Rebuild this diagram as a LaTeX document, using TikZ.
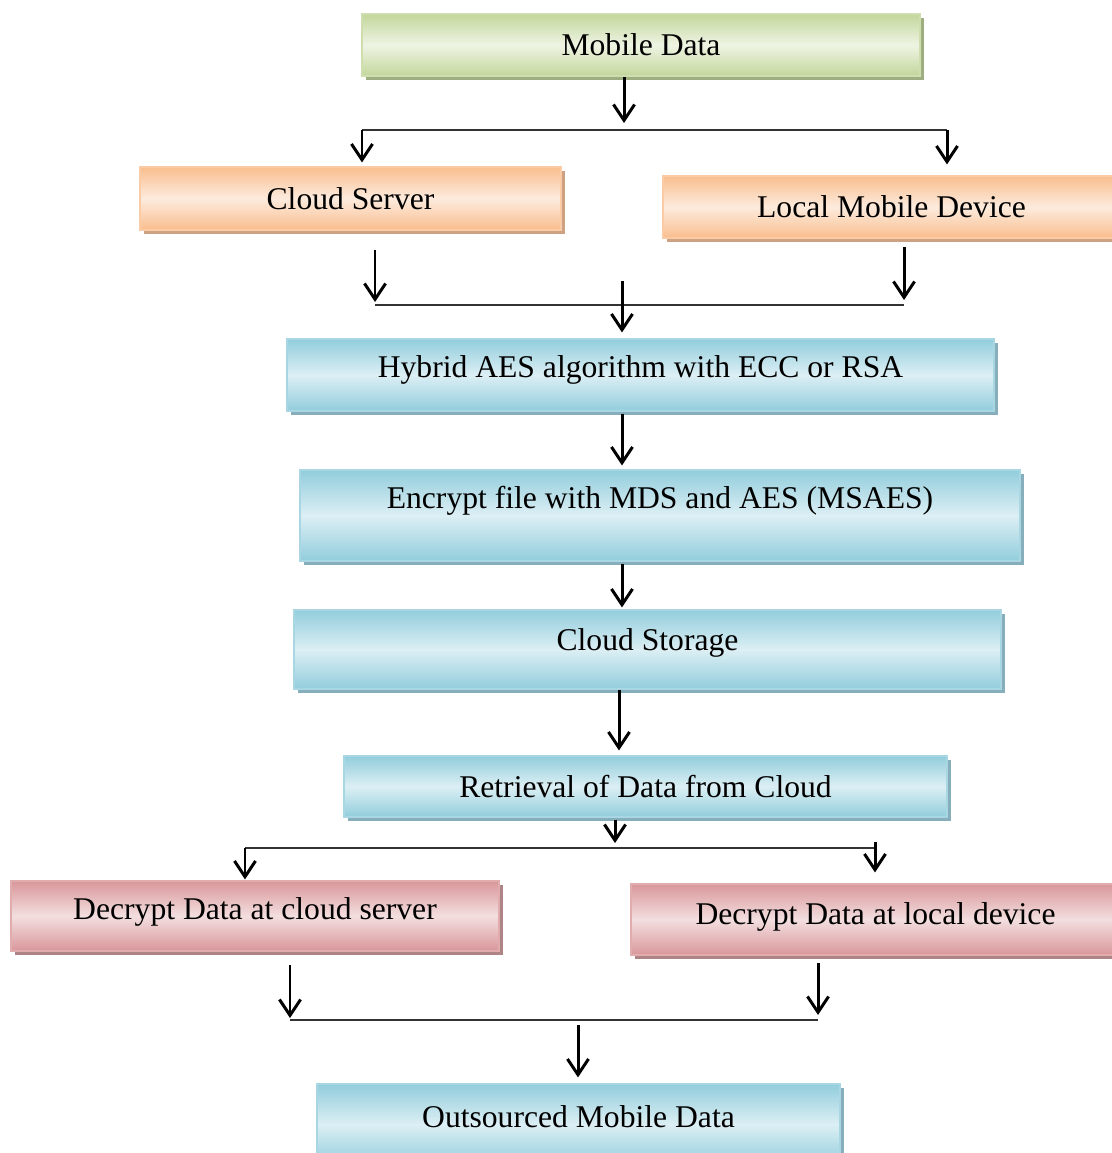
\documentclass[tikz,border=0pt]{standalone}
\usepackage{fontspec}
\setmainfont{Liberation Serif}
\usetikzlibrary{arrows.meta,shadows}
\newlength\pxu
\setlength\pxu{0.02cm}
\definecolor{bDark}{HTML}{92CDDC}
\definecolor{bLight}{HTML}{DCEFF4}
\definecolor{bShad}{HTML}{86AEBB}
\definecolor{gDark}{HTML}{C3D69B}
\definecolor{gLight}{HTML}{EEF4E3}
\definecolor{gShad}{HTML}{9EAE80}
\definecolor{oDark}{HTML}{F9BE8E}
\definecolor{oLight}{HTML}{FDEBDD}
\definecolor{oShad}{HTML}{CDA282}
\definecolor{rDark}{HTML}{D9979A}
\definecolor{rLight}{HTML}{F3DEDF}
\definecolor{rShad}{HTML}{AE8486}
\tikzset{
  boxbase/.style={rectangle, inner sep=0pt, font=\fontsize{18}{20}\selectfont, shading angle=25},
  bluebox/.style={boxbase, draw=bDark!80!white, line width=0.6pt, top color=bDark, bottom color=bDark, middle color=bLight,
     general shadow={fill=bShad, shadow xshift=4\pxu, shadow yshift=-4\pxu}},
  greenbox/.style={boxbase, draw=gDark!80!white, line width=0.6pt, top color=gDark, bottom color=gDark, middle color=gLight,
     general shadow={fill=gShad, shadow xshift=4\pxu, shadow yshift=-4\pxu}},
  orangebox/.style={boxbase, draw=oDark!80!white, line width=0.6pt, top color=oDark, bottom color=oDark, middle color=oLight,
     general shadow={fill=oShad, shadow xshift=4\pxu, shadow yshift=-4\pxu}},
  redbox/.style={boxbase, draw=rDark!80!white, line width=0.6pt, top color=rDark, bottom color=rDark, middle color=rLight,
     general shadow={fill=rShad, shadow xshift=4\pxu, shadow yshift=-4\pxu}},
  arr/.style={-{Straight Barb[length=9pt,width=12pt,line width=1.7pt]}, line width=1.7pt, black},
  hline/.style={line width=0.9pt, black!80},
}
\begin{document}
\begin{tikzpicture}[x=0.02cm,y=-0.02cm]
\useasboundingbox[fill=white] (0,0) rectangle (1112,1153);
% boxes
\node[greenbox, minimum width=558\pxu, minimum height=62\pxu] (md) at (641,45) {Mobile Data};
\node[orangebox, minimum width=421\pxu, minimum height=63\pxu] (cs) at (350.5,198.5) {Cloud Server};
\node[orangebox, minimum width=457\pxu, minimum height=62\pxu] (lm) at (891.5,207) {Local Mobile Device};
\node[bluebox, minimum width=707\pxu, minimum height=72\pxu] (hy) at (640.5,375) {\raisebox{5\pxu}[\height][\depth]{Hybrid AES algorithm with ECC or RSA}};
\node[bluebox, minimum width=720\pxu, minimum height=91\pxu] (en) at (660,515.5) {\raisebox{15\pxu}[\height][\depth]{Encrypt file with MDS and AES (MSAES)}};
\node[bluebox, minimum width=707\pxu, minimum height=79\pxu] (st) at (647.5,649.5) {\raisebox{7\pxu}[\height][\depth]{Cloud Storage}};
\node[bluebox, minimum width=603\pxu, minimum height=61\pxu] (re) at (645.5,786.5) {Retrieval of Data from Cloud};
\node[redbox, minimum width=488\pxu, minimum height=70\pxu] (dc) at (255,916) {\raisebox{4\pxu}[\height][\depth]{Decrypt Data at cloud server}};
\node[redbox, minimum width=489\pxu, minimum height=71\pxu] (dl) at (875.5,919.5) {\raisebox{3\pxu}[\height][\depth]{Decrypt Data at local device}};
\node[bluebox, minimum width=523\pxu, minimum height=81\pxu] (ou) at (578.5,1124.5) {\raisebox{8\pxu}[\height][\depth]{Outsourced Mobile Data}};
% split 1
\coordinate (s1L) at (362,130);
\coordinate (s1R) at (947,130);
\coordinate (s1M) at (624,123);
\draw[arr] (md.south -| s1M) -- (s1M);
\draw[hline] (s1L) -- (s1R);
\draw[arr] (s1L) -- ([yshift=4\pxu]cs.north -| s1L);
\draw[arr] (s1R) -- ([yshift=11\pxu]lm.north -| s1R);
% merge 1
\coordinate (m1L) at (375,305);
\coordinate (m1R) at (904,305);
\coordinate (m1Ls) at (375,250);
\coordinate (m1Rs) at (904,247);
\coordinate (m1M) at (622,281);
\draw[hline] (m1L) -- (m1R);
\draw[arr] (m1Ls) -- ([yshift=3\pxu]m1L);
\draw[arr] (m1Rs) -- ([yshift=5\pxu]m1R);
\draw[arr] (m1M) -- ([yshift=6\pxu]hy.north -| m1M);
% chain
\coordinate (c1) at (622,0);
\draw[arr] ([yshift=-2\pxu]hy.south -| c1) -- ([yshift=4\pxu]en.north -| c1);
\draw[arr] ([yshift=-2\pxu]en.south -| c1) -- ([yshift=2\pxu]st.north -| c1);
\coordinate (c2) at (619,0);
\draw[arr] (st.south -| c2) -- ([yshift=5\pxu]re.north -| c2);
% split 2
\coordinate (s2L) at (245,848);
\coordinate (s2R) at (875,848);
\coordinate (s2M) at (615,843);
\coordinate (s2Rs) at (875,842);
\draw[arr] ([yshift=-2\pxu]re.south -| s2M) -- (s2M);
\draw[hline] (s2L) -- (s2R);
\draw[arr] (s2L) -- ([yshift=1\pxu]dc.north -| s2L);
\draw[arr] (s2Rs) -- ([yshift=11\pxu]dl.north -| s2Rs);
% merge 2
\coordinate (m2L) at (290,1020);
\coordinate (m2R) at (818,1020);
\coordinate (m2Ls) at (290,965);
\coordinate (m2Rs) at (818,963);
\coordinate (m2M) at (578,1025);
\draw[hline] (m2L) -- (m2R);
\draw[arr] (m2Ls) -- ([yshift=2\pxu]m2L);
\draw[arr] (m2Rs) -- ([yshift=5\pxu]m2R);
\draw[arr] (m2M) -- ([yshift=6\pxu]ou.north -| m2M);
\end{tikzpicture}
\end{document}
